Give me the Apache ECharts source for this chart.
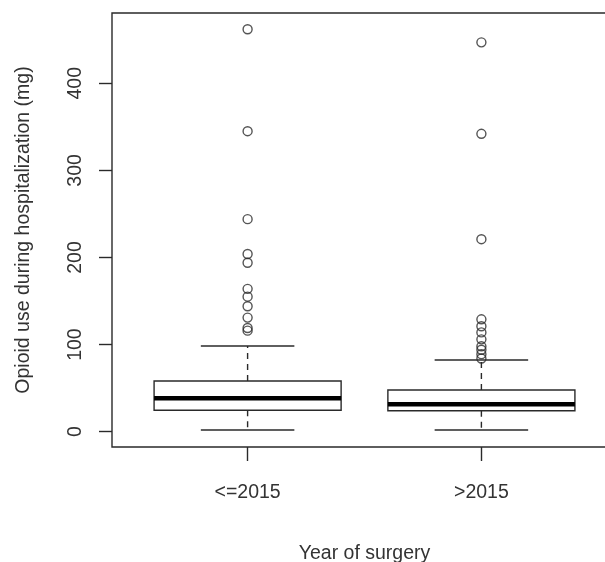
<!DOCTYPE html>
<html>
<head>
<meta charset="utf-8">
<script src="https://cdn.jsdelivr.net/npm/echarts@6/dist/echarts.min.js"></script>
<style>
html,body{margin:0;padding:0;background:#fff;}
#chart{width:605px;height:562px;}
</style>
</head>
<body>
<div id="chart"></div>
<script>
// ---- data ----
const categories = ['<=2015', '>2015'];
const lowerWhisker = [2.0, 2.0];
const q1Values = [24.6, 24.1];
const medianValues = [38.3, 31.5];
const q3Values = [58.2, 47.9];
const upperWhisker = [98.4, 82.3];
const outliersGroup1 = [462, 345, 244, 204, 194, 164, 155, 144, 131, 119, 116];
const outliersGroup2 = [447, 342, 221, 129, 121, 114, 106, 98, 94, 89, 84];
const yTicks = [0, 100, 200, 300, 400];

const FONT = "'Liberation Sans', Arial, sans-serif";
const TXT = '#333';
const LINE = '#2a2a2a';

const boxData = categories.map((c, i) => [i + 1, lowerWhisker[i], q1Values[i], medianValues[i], q3Values[i], upperWhisker[i]]);
const outlierData = [];
[outliersGroup1, outliersGroup2].forEach((arr, i) => arr.forEach(v => outlierData.push([i + 1, v])));

const chart = echarts.init(document.getElementById('chart'), null, {renderer: 'canvas'});

function renderBox(params, api) {
  const x = api.value(0);
  const lo = api.value(1), q1 = api.value(2), med = api.value(3), q3 = api.value(4), hi = api.value(5);
  const hw = 0.4, cw = 0.2;
  const tl = api.coord([x - hw, q3]);
  const br = api.coord([x + hw, q1]);
  const mL = api.coord([x - hw, med]);
  const mR = api.coord([x + hw, med]);
  const cTop = api.coord([x, q3]);
  const cHi = api.coord([x, hi]);
  const cBot = api.coord([x, q1]);
  const cLo = api.coord([x, lo]);
  const capHiL = api.coord([x - cw, hi]), capHiR = api.coord([x + cw, hi]);
  const capLoL = api.coord([x - cw, lo]), capLoR = api.coord([x + cw, lo]);
  const thin = {stroke: LINE, lineWidth: 1.4, fill: null};
  const dashed = {stroke: LINE, lineWidth: 1.4, lineDash: [6, 5]};
  return {
    type: 'group',
    children: [
      {type: 'line', shape: {x1: cTop[0], y1: cTop[1], x2: cHi[0], y2: cHi[1]}, style: dashed},
      {type: 'line', shape: {x1: cBot[0], y1: cBot[1], x2: cLo[0], y2: cLo[1]}, style: dashed},
      {type: 'line', shape: {x1: capHiL[0], y1: capHiL[1], x2: capHiR[0], y2: capHiR[1]}, style: thin},
      {type: 'line', shape: {x1: capLoL[0], y1: capLoL[1], x2: capLoR[0], y2: capLoR[1]}, style: thin},
      {type: 'rect', shape: {x: tl[0], y: tl[1], width: br[0] - tl[0], height: br[1] - tl[1]}, style: {stroke: LINE, lineWidth: 1.4, fill: '#fff'}},
      {type: 'line', shape: {x1: mL[0], y1: mL[1], x2: mR[0], y2: mR[1]}, style: {stroke: '#000', lineWidth: 4.5}}
    ]
  };
}

chart.setOption({
  animation: false,
  backgroundColor: '#fff',
  textStyle: {fontFamily: FONT},
  grid: {
    left: 112, top: 13, width: 505, height: 434,
    outerBoundsMode: 'none', containLabel: false,
    show: true, borderColor: LINE, borderWidth: 1.4, backgroundColor: 'transparent'
  },
  xAxis: {
    type: 'value', min: 0.42, max: 2.58,
    axisLine: {show: false, onZero: false},
    splitLine: {show: false},
    axisTick: {show: true, customValues: [1, 2], length: 14, lineStyle: {color: LINE, width: 1.4}},
    axisLabel: {
      customValues: [1, 2], margin: 36,
      formatter: v => categories[Math.round(v) - 1],
      fontSize: 19.5, color: TXT, fontFamily: FONT
    },
    name: 'Year of surgery', nameLocation: 'middle', nameGap: 97,
    nameTextStyle: {fontSize: 19.5, color: TXT, fontFamily: FONT}
  },
  yAxis: {
    type: 'value', min: -17.6, max: 480.7,
    axisLine: {show: false, onZero: false},
    splitLine: {show: false},
    axisTick: {show: true, customValues: yTicks, length: 13, lineStyle: {color: LINE, width: 1.4}},
    axisLabel: {customValues: yTicks, rotate: 90, margin: 26, fontSize: 19.5, color: TXT, fontFamily: FONT},
    name: 'Opioid use during hospitalization (mg)', nameLocation: 'middle', nameGap: 78,
    nameTextStyle: {fontSize: 19.5, color: TXT, fontFamily: FONT}
  },
  series: [
    {
      type: 'custom', renderItem: renderBox, data: boxData,
      encode: {x: 0, y: [1, 2, 3, 4, 5]}, clip: false, silent: true
    },
    {
      type: 'scatter', data: outlierData, symbol: 'circle', symbolSize: 9,
      itemStyle: {color: 'rgba(0,0,0,0)', borderColor: LINE, borderWidth: 1.4},
      silent: true
    }
  ]
});
</script>
</body>
</html>
